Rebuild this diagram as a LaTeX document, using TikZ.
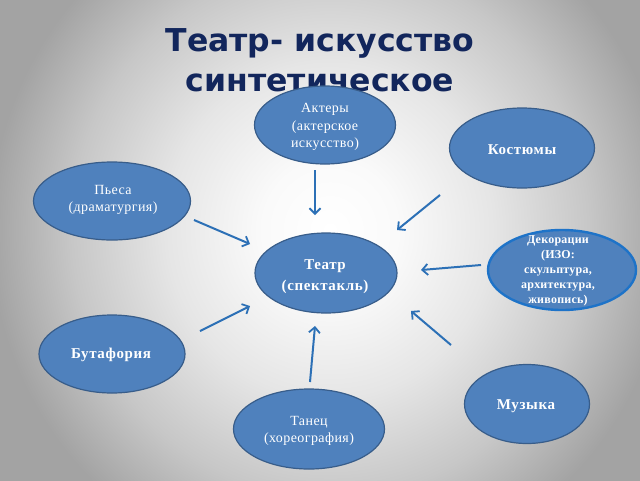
\documentclass[tikz,border=0pt]{standalone}
\usepackage{fontspec}
\setmainfont{Liberation Serif}
\newfontfamily\titlefont{DejaVu Sans}
\usetikzlibrary{shapes.geometric,arrows.meta}
\definecolor{bfill}{RGB}{79,129,189}
\definecolor{bline}{RGB}{56,93,138}
\definecolor{dline}{RGB}{30,115,200}
\definecolor{arr}{RGB}{44,112,182}
\definecolor{ttl}{RGB}{18,38,92}
\pgfdeclareradialshading{bgshade}{\pgfpoint{0bp}{0bp}}{color(0bp)=(white); color(5bp)=(black!2); color(12bp)=(black!10); color(19bp)=(black!22); color(25bp)=(black!36); color(50bp)=(black!36)}
\tikzset{
  blob/.style={ellipse, draw=bline, line width=1.2pt, fill=bfill, inner sep=0pt},
  txt/.style={text=white, align=center, inner sep=0pt, font=\fontsize{14}{17.5}\selectfont\addfontfeatures{LetterSpace=3}},
  btxt/.style={text=white, align=center, inner sep=0pt, font=\fontsize{15}{18}\selectfont\bfseries\addfontfeatures{LetterSpace=4}},
  conn/.style={draw=arr, line width=2pt, -{Straight Barb[length=5.5pt,width=11pt,line width=1.8pt]}},
}
\begin{document}
\begin{tikzpicture}[x=1pt,y=-1pt]
\useasboundingbox (0,0) rectangle (640,480);
\shade[shading=bgshade] (-10,-120) rectangle (670,580);
\clip (0,0) rectangle (640,480);
% title
\node[text=ttl, font=\titlefont\bfseries\fontsize{31.5}{40}\selectfont, align=center, inner sep=0pt, anchor=north] (title) at (320,28) {Театр- искусство\\синтетическое};
% ellipses
\node[blob, minimum width=141pt, minimum height=78pt] (akt) at (325,125) {};
\node[blob, minimum width=145pt, minimum height=80pt] (kos) at (522,148) {};
\node[blob, minimum width=157pt, minimum height=78pt] (pes) at (112,201) {};
\node[blob, draw=dline, line width=2.4pt, minimum width=148pt, minimum height=80pt] (dek) at (562,270) {};
\node[blob, minimum width=142pt, minimum height=80pt] (tea) at (326,273) {};
\node[blob, minimum width=146pt, minimum height=78pt] (but) at (112,354) {};
\node[blob, minimum width=125pt, minimum height=79pt] (muz) at (527,404) {};
\node[blob, minimum width=151pt, minimum height=80pt] (tan) at (309,429) {};
% texts
\node[txt] (aktT) at (325,127) {Актеры\\(актерское\\искусство)};
\node[btxt] (kosT) at (522,150) {Костюмы};
\node[txt] (pesT) at (113,200) {Пьеса\\(драматургия)};
\node[btxt, font=\fontsize{12}{15}\selectfont\bfseries\addfontfeatures{LetterSpace=2}] (dekT) at (558,271) {Декорации\\(ИЗО:\\скульптура,\\архитектура,\\живопись)};
\node[btxt, font=\fontsize{15}{21}\selectfont\bfseries\addfontfeatures{LetterSpace=4}] (teaT) at (325,277) {Театр\\(спектакль)};
\node[btxt] (butT) at (111,355) {Бутафория};
\node[btxt] (muzT) at (526,406) {Музыка};
\node[txt] (tanT) at (309,431) {Танец\\(хореография)};
% arrow ends
\coordinate (a1) at (315,170); \coordinate (b1) at (315,215);
\coordinate (a2) at (440,195); \coordinate (b2) at (397,230);
\coordinate (a3) at (194,220); \coordinate (b3) at (250,244);
\coordinate (a4) at (481,265); \coordinate (b4) at (421,270);
\coordinate (a5) at (200,331); \coordinate (b5) at (250,306);
\coordinate (a6) at (310,382); \coordinate (b6) at (315,326);
\coordinate (a7) at (451,345); \coordinate (b7) at (411,311);
\draw[conn] (a1) -- (b1);
\draw[conn] (a2) -- (b2);
\draw[conn] (a3) -- (b3);
\draw[conn] (a4) -- (b4);
\draw[conn] (a5) -- (b5);
\draw[conn] (a6) -- (b6);
\draw[conn] (a7) -- (b7);
\end{tikzpicture}
\end{document}
